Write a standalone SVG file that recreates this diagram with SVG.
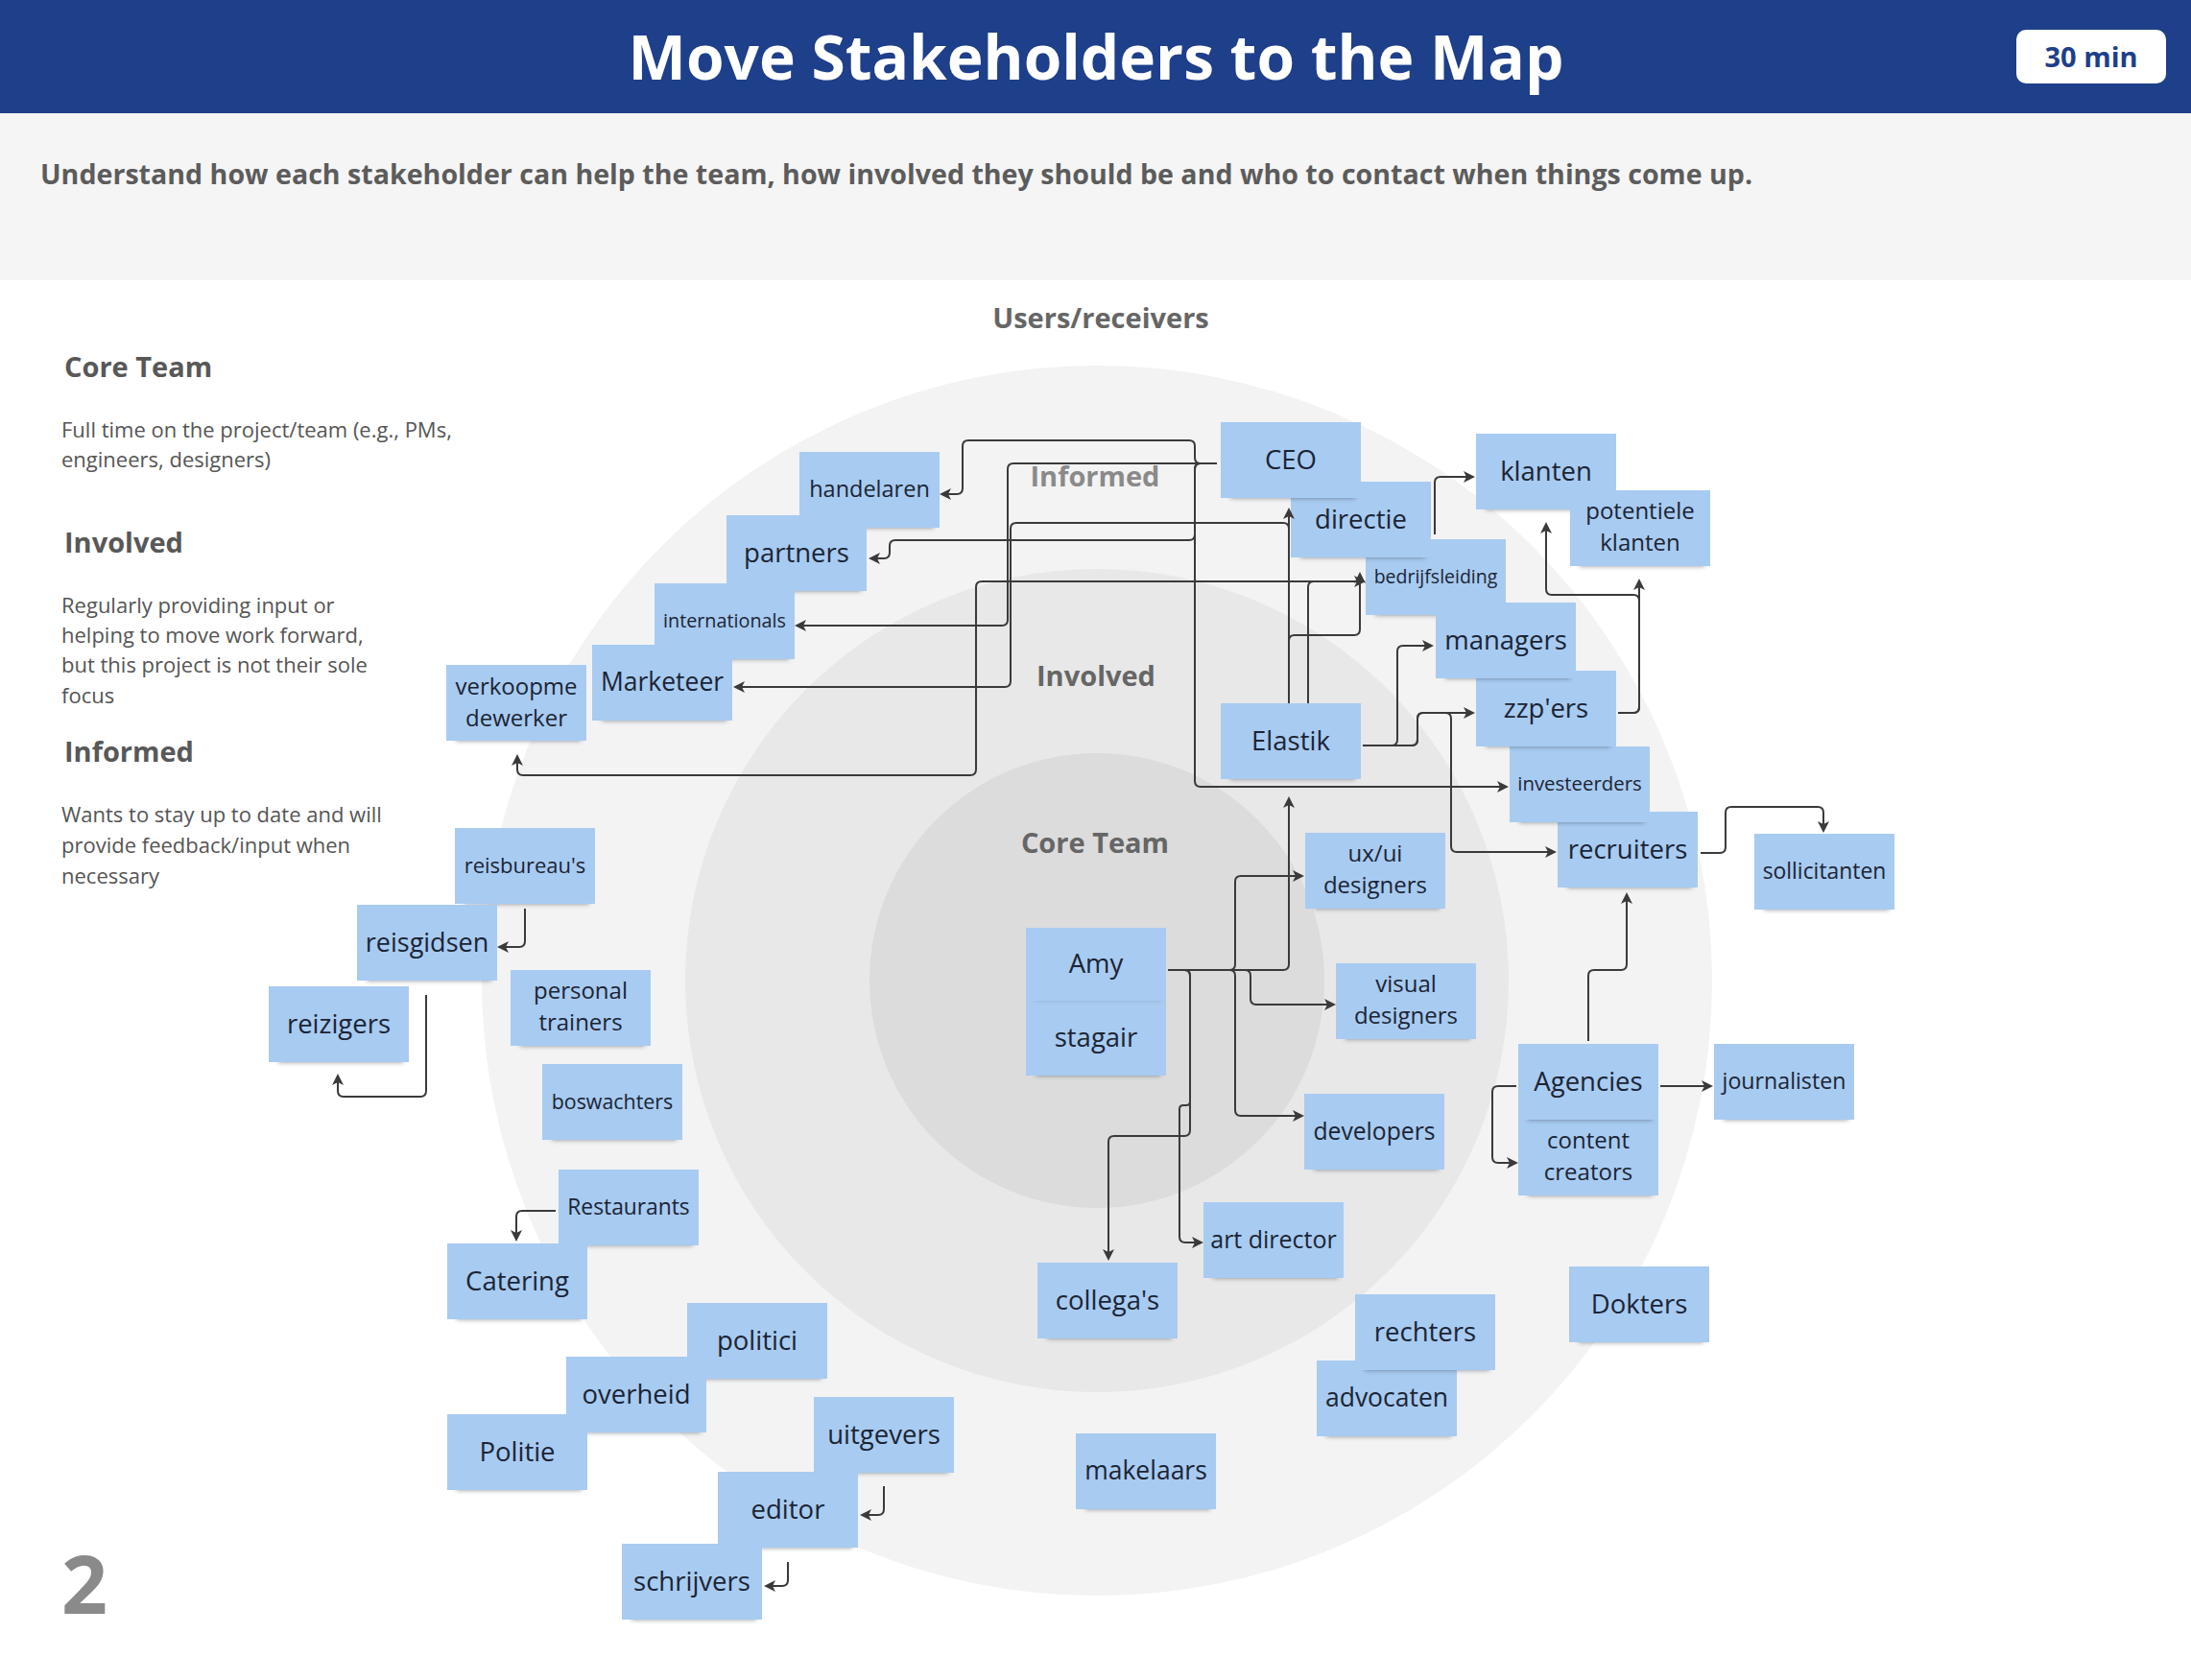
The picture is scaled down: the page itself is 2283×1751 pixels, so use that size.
<svg xmlns="http://www.w3.org/2000/svg" width="2283" height="1751" viewBox="0 0 2283 1751">
<defs>
<style>
.ff{font-family:"Open Sans","Liberation Sans",sans-serif}
.b{fill:#a8cbf1}
.sh{fill:#2a3442;opacity:.55;filter:url(#sf)}
.t{font-family:"Open Sans","Liberation Sans",sans-serif;fill:#1b2434;text-anchor:middle;font-size:27.5px}
.lab{font-family:"Open Sans","Liberation Sans",sans-serif;font-weight:700;font-size:29px;text-anchor:middle;fill:#666}
.hd{font-family:"Open Sans","Liberation Sans",sans-serif;font-weight:700;font-size:29px;fill:#585858}
.bd{font-family:"Open Sans","Liberation Sans",sans-serif;font-size:22px;fill:#555}
.c{fill:none;stroke:#3a3a3a;stroke-width:2;marker-end:url(#ah)}
</style>
<filter id="sf" x="-20%" y="-100%" width="140%" height="300%"><feGaussianBlur stdDeviation="2.5"/></filter>
<marker id="ah" viewBox="0 0 12 12" refX="10" refY="6" markerWidth="12" markerHeight="12" markerUnits="userSpaceOnUse" orient="auto"><path d="M0,0 L12,6 L0,12 L3,6 z" fill="#3a3a3a"/></marker>
</defs>

<rect width="2283" height="1751" fill="#ffffff"/>
<rect x="0" y="0" width="2283" height="118" fill="#1e3f8a"/>
<rect x="0" y="118" width="2283" height="174" fill="#f5f5f5"/>
<text x="1142" y="83" class="ff" font-size="64" font-weight="700" fill="#ffffff" text-anchor="middle">Move Stakeholders to the Map</text>
<rect x="2101" y="31" width="156" height="56" rx="10" fill="#ffffff"/>
<text x="2179" y="70" class="ff" font-size="29" font-weight="700" fill="#1e3f8a" text-anchor="middle">30 min</text>
<text x="42" y="192" class="ff" font-size="28.6" font-weight="700" fill="#5c5c5c">Understand how each stakeholder can help the team, how involved they should be and who to contact when things come up.</text>

<circle cx="1143" cy="1022" r="641" fill="#f3f3f3"/>
<circle cx="1143" cy="1022" r="429" fill="#e8e8e8"/>
<circle cx="1143" cy="1022" r="237" fill="#dcdcdc"/>

<text x="1147" y="342" class="lab">Users/receivers</text>
<text x="1141" y="507" class="lab" style="fill:#8a8a8a">Informed</text>
<text x="1142" y="715" class="lab">Involved</text>
<text x="1141" y="889" class="lab">Core Team</text>

<g id="legend">
<text x="67" y="393" class="hd">Core Team</text>
<text x="64" y="456" class="bd">Full time on the project/team (e.g., PMs,</text>
<text x="64" y="487" class="bd">engineers, designers)</text>
<text x="67" y="576" class="hd">Involved</text>
<text x="64" y="639" class="bd">Regularly providing input or</text>
<text x="64" y="670" class="bd">helping to move work forward,</text>
<text x="64" y="701" class="bd">but this project is not their sole</text>
<text x="64" y="733" class="bd">focus</text>
<text x="67" y="794" class="hd">Informed</text>
<text x="64" y="857" class="bd">Wants to stay up to date and will</text>
<text x="64" y="889" class="bd">provide feedback/input when</text>
<text x="64" y="921" class="bd">necessary</text>
<text x="64" y="1682" class="ff" font-size="84" font-weight="700" fill="#8a8a8a">2</text>
</g>

<g id="nodes">
<g id="n-handelaren"><rect class="sh" x="843" y="538" width="130" height="12"/><rect class="b" x="833" y="471" width="146" height="79"/><text class="t" x="906" y="518" style="font-size:23.5px">handelaren</text></g>
<g id="n-partners"><rect class="sh" x="767" y="604" width="130" height="12"/><rect class="b" x="757" y="537" width="146" height="79"/><text class="t" x="830" y="585.5">partners</text></g>
<g id="n-internationals"><rect class="sh" x="692" y="675" width="130" height="12"/><rect class="b" x="682" y="608" width="146" height="79"/><text class="t" x="755" y="654" style="font-size:19.8px">internationals</text></g>
<g id="n-marketeer"><rect class="sh" x="627" y="739" width="130" height="12"/><rect class="b" x="617" y="672" width="146" height="79"/><text class="t" x="690" y="720" style="font-size:26.5px">Marketeer</text></g>
<g id="n-verkoop"><rect class="sh" x="475" y="760" width="130" height="12"/><rect class="b" x="465" y="693" width="146" height="79"/><text class="t" x="538" y="724" style="font-size:24px">verkoopme</text><text class="t" x="538" y="757" style="font-size:24px">dewerker</text></g>
<g id="n-bedrijfsleiding"><rect class="sh" x="1433" y="629" width="130" height="12"/><rect class="b" x="1423" y="562" width="146" height="79"/><text class="t" x="1496" y="608" style="font-size:19.5px">bedrijfsleiding</text></g>
<g id="n-directie"><rect class="sh" x="1355" y="569" width="130" height="12"/><rect class="b" x="1345" y="502" width="146" height="79"/><text class="t" x="1418" y="550.5">directie</text></g>
<g id="n-ceo"><rect class="sh" x="1282" y="507" width="130" height="12"/><rect class="b" x="1272" y="440" width="146" height="79"/><text class="t" x="1345" y="488.5">CEO</text></g>
<g id="n-klanten"><rect class="sh" x="1548" y="519" width="130" height="12"/><rect class="b" x="1538" y="452" width="146" height="79"/><text class="t" x="1611" y="500.5">klanten</text></g>
<g id="n-potentiele"><rect class="sh" x="1646" y="578" width="130" height="12"/><rect class="b" x="1636" y="511" width="146" height="79"/><text class="t" x="1709" y="541" style="font-size:24px">potentiele</text><text class="t" x="1709" y="574" style="font-size:24px">klanten</text></g>
<g id="n-recruiters"><rect class="sh" x="1633" y="913" width="130" height="12"/><rect class="b" x="1623" y="846" width="146" height="79"/><text class="t" x="1696" y="894.5">recruiters</text></g>
<g id="n-investeerders"><rect class="sh" x="1583" y="845" width="130" height="12"/><rect class="b" x="1573" y="778" width="146" height="79"/><text class="t" x="1646" y="824" style="font-size:20.4px">investeerders</text></g>
<g id="n-zzpers"><rect class="sh" x="1548" y="766" width="130" height="12"/><rect class="b" x="1538" y="699" width="146" height="79"/><text class="t" x="1611" y="747.5">zzp'ers</text></g>
<g id="n-managers"><rect class="sh" x="1506" y="695" width="130" height="12"/><rect class="b" x="1496" y="628" width="146" height="79"/><text class="t" x="1569" y="676.5">managers</text></g>
<g id="n-sollicitanten"><rect class="sh" x="1838" y="936" width="130" height="12"/><rect class="b" x="1828" y="869" width="146" height="79"/><text class="t" x="1901" y="916" style="font-size:22.9px">sollicitanten</text></g>
<g id="n-elastik"><rect class="sh" x="1282" y="800" width="130" height="12"/><rect class="b" x="1272" y="733" width="146" height="79"/><text class="t" x="1345" y="781.5">Elastik</text></g>
<g id="n-uxui"><rect class="sh" x="1370" y="935" width="130" height="12"/><rect class="b" x="1360" y="868" width="146" height="79"/><text class="t" x="1433" y="898" style="font-size:24px">ux/ui</text><text class="t" x="1433" y="931" style="font-size:24px">designers</text></g>
<g id="n-visual"><rect class="sh" x="1402" y="1071" width="130" height="12"/><rect class="b" x="1392" y="1004" width="146" height="79"/><text class="t" x="1465" y="1034" style="font-size:24px">visual</text><text class="t" x="1465" y="1067" style="font-size:24px">designers</text></g>
<g id="n-developers"><rect class="sh" x="1369" y="1207" width="130" height="12"/><rect class="b" x="1359" y="1140" width="146" height="79"/><text class="t" x="1432" y="1187.5" style="font-size:24.7px">developers</text></g>
<g id="n-artdirector"><rect class="sh" x="1264" y="1320" width="130" height="12"/><rect class="b" x="1254" y="1253" width="146" height="79"/><text class="t" x="1327" y="1301" style="font-size:25px">art director</text></g>
<g id="n-content"><rect class="sh" x="1592" y="1234" width="130" height="12"/><rect class="b" x="1582" y="1167" width="146" height="79"/><text class="t" x="1655" y="1197" style="font-size:24px">content</text><text class="t" x="1655" y="1230" style="font-size:24px">creators</text></g>
<g id="n-agencies"><rect class="sh" x="1592" y="1155" width="130" height="12"/><rect class="b" x="1582" y="1088" width="146" height="79"/><text class="t" x="1655" y="1136.5">Agencies</text></g>
<g id="n-journalisten"><rect class="sh" x="1796" y="1155" width="130" height="12"/><rect class="b" x="1786" y="1088" width="146" height="79"/><text class="t" x="1859" y="1135" style="font-size:23.2px">journalisten</text></g>
<g id="n-stagair"><rect class="sh" x="1079" y="1109" width="130" height="12"/><rect class="b" x="1069" y="1042" width="146" height="79"/><text class="t" x="1142" y="1090.5">stagair</text></g>
<g id="n-amy"><rect class="sh" x="1079" y="1032" width="130" height="10" style="opacity:.3"/><rect class="b" x="1069" y="967" width="146" height="76"/><text class="t" x="1142" y="1014">Amy</text></g>
<g id="n-reisbureaus"><rect class="sh" x="484" y="930" width="130" height="12"/><rect class="b" x="474" y="863" width="146" height="79"/><text class="t" x="547" y="910" style="font-size:22px">reisbureau's</text></g>
<g id="n-reisgidsen"><rect class="sh" x="382" y="1010" width="130" height="12"/><rect class="b" x="372" y="943" width="146" height="79"/><text class="t" x="445" y="991.5" style="font-size:27px">reisgidsen</text></g>
<g id="n-reizigers"><rect class="sh" x="290" y="1095" width="130" height="12"/><rect class="b" x="280" y="1028" width="146" height="79"/><text class="t" x="353" y="1076.5">reizigers</text></g>
<g id="n-personal"><rect class="sh" x="542" y="1078" width="130" height="12"/><rect class="b" x="532" y="1011" width="146" height="79"/><text class="t" x="605" y="1041" style="font-size:24px">personal</text><text class="t" x="605" y="1074" style="font-size:24px">trainers</text></g>
<g id="n-boswachters"><rect class="sh" x="575" y="1176" width="130" height="12"/><rect class="b" x="565" y="1109" width="146" height="79"/><text class="t" x="638" y="1155.5" style="font-size:21.4px">boswachters</text></g>
<g id="n-restaurants"><rect class="sh" x="592" y="1286" width="130" height="12"/><rect class="b" x="582" y="1219" width="146" height="79"/><text class="t" x="655" y="1266" style="font-size:22.8px">Restaurants</text></g>
<g id="n-catering"><rect class="sh" x="476" y="1363" width="130" height="12"/><rect class="b" x="466" y="1296" width="146" height="79"/><text class="t" x="539" y="1344.5">Catering</text></g>
<g id="n-politici"><rect class="sh" x="726" y="1425" width="130" height="12"/><rect class="b" x="716" y="1358" width="146" height="79"/><text class="t" x="789" y="1406.5">politici</text></g>
<g id="n-overheid"><rect class="sh" x="600" y="1481" width="130" height="12"/><rect class="b" x="590" y="1414" width="146" height="79"/><text class="t" x="663" y="1462.5">overheid</text></g>
<g id="n-politie"><rect class="sh" x="476" y="1541" width="130" height="12"/><rect class="b" x="466" y="1474" width="146" height="79"/><text class="t" x="539" y="1522.5">Politie</text></g>
<g id="n-uitgevers"><rect class="sh" x="858" y="1523" width="130" height="12"/><rect class="b" x="848" y="1456" width="146" height="79"/><text class="t" x="921" y="1504.5">uitgevers</text></g>
<g id="n-editor"><rect class="sh" x="758" y="1601" width="130" height="12"/><rect class="b" x="748" y="1534" width="146" height="79"/><text class="t" x="821" y="1582.5">editor</text></g>
<g id="n-schrijvers"><rect class="sh" x="658" y="1676" width="130" height="12"/><rect class="b" x="648" y="1609" width="146" height="79"/><text class="t" x="721" y="1657.5">schrijvers</text></g>
<g id="n-collegas"><rect class="sh" x="1091" y="1383" width="130" height="12"/><rect class="b" x="1081" y="1316" width="146" height="79"/><text class="t" x="1154" y="1364.5">collega's</text></g>
<g id="n-advocaten"><rect class="sh" x="1382" y="1485" width="130" height="12"/><rect class="b" x="1372" y="1418" width="146" height="79"/><text class="t" x="1445" y="1466" style="font-size:26.5px">advocaten</text></g>
<g id="n-rechters"><rect class="sh" x="1422" y="1416" width="130" height="12"/><rect class="b" x="1412" y="1349" width="146" height="79"/><text class="t" x="1485" y="1397.5">rechters</text></g>
<g id="n-dokters"><rect class="sh" x="1645" y="1387" width="130" height="12"/><rect class="b" x="1635" y="1320" width="146" height="79"/><text class="t" x="1708" y="1368.5">Dokters</text></g>
<g id="n-makelaars"><rect class="sh" x="1131" y="1561" width="130" height="12"/><rect class="b" x="1121" y="1494" width="146" height="79"/><text class="t" x="1194" y="1542" style="font-size:26.5px">makelaars</text></g>
</g>

<g id="connectors">
<path class="c" d="M1268,483 L1251,483 Q1245,483 1245,477 L1245,465 Q1245,459 1239,459 L1009,459 Q1003,459 1003,465 L1003,509 Q1003,515 997,515 L981,515"/>
<path class="c" d="M1268,483 L1251,483 Q1245,483 1245,489 L1245,557 Q1245,563 1239,563 L933,563 Q927,563 927,569 L927,576 Q927,582 921,582 L907,582"/>
<path class="c" d="M1268,483 L1251,483 Q1245,483 1245,489 L1245,814 Q1245,820 1251,820 L1570,820"/>
<path class="c" d="M1268,483 L1056,483 Q1050,483 1050,489 L1050,646 Q1050,652 1044,652 L830,652"/>
<path class="c" d="M1343,733 L1343,531"/>
<path class="c" d="M1343,733 L1343,551 Q1343,545 1337,545 L1059,545 Q1053,545 1053,551 L1053,710 Q1053,716 1047,716 L766,716"/>
<path class="c" d="M1343,733 L1343,668 Q1343,662 1349,662 L1411,662 Q1417,662 1417,656 L1417,598"/>
<path class="c" d="M1363,733 L1363,612 Q1363,606 1369,606 L1421,606"/>
<path class="c" d="M1410,606 L1023,606 Q1017,606 1017,612 L1017,802 Q1017,808 1011,808 L545,808 Q539,808 539,802 L539,788"/>
<path class="c" d="M1495,557 L1495,503 Q1495,497 1501,497 L1535,497"/>
<path class="c" d="M1686,743 L1702,743 Q1708,743 1708,737 L1708,605"/>
<path class="c" d="M1686,743 L1702,743 Q1708,743 1708,737 L1708,626 Q1708,620 1702,620 L1617,620 Q1611,620 1611,614 L1611,546"/>
<path class="c" d="M1420,777 L1450,777 Q1456,777 1456,771 L1456,679 Q1456,673 1462,673 L1492,673"/>
<path class="c" d="M1420,777 L1471,777 Q1477,777 1477,771 L1477,749 Q1477,743 1483,743 L1535,743"/>
<path class="c" d="M1420,777 L1471,777 Q1477,777 1477,771 L1477,749 Q1477,743 1483,743 L1506,743 Q1512,743 1512,749 L1512,882 Q1512,888 1518,888 L1620,888"/>
<path class="c" d="M1772,889 L1792,889 Q1798,889 1798,883 L1798,847 Q1798,841 1804,841 L1894,841 Q1900,841 1900,847 L1900,866"/>
<path class="c" d="M1655,1085 L1655,1017 Q1655,1011 1661,1011 L1689,1011 Q1695,1011 1695,1005 L1695,932"/>
<path class="c" d="M1730,1132 L1783,1132"/>
<path class="c" d="M1580,1132 L1561,1132 Q1555,1132 1555,1138 L1555,1206 Q1555,1212 1561,1212 L1580,1212"/>
<path class="c" d="M1217,1011 L1337,1011 Q1343,1011 1343,1005 L1343,832"/>
<path class="c" d="M1217,1011 L1281,1011 Q1287,1011 1287,1005 L1287,919 Q1287,913 1293,913 L1357,913"/>
<path class="c" d="M1217,1011 L1297,1011 Q1303,1011 1303,1017 L1303,1041 Q1303,1047 1309,1047 L1390,1047"/>
<path class="c" d="M1217,1011 L1281,1011 Q1287,1011 1287,1017 L1287,1157 Q1287,1163 1293,1163 L1357,1163"/>
<path class="c" d="M1217,1011 L1234,1011 Q1240,1011 1240,1017 L1240,1148 Q1240,1152 1236,1152 L1233,1152 Q1229,1152 1229,1156 L1229,1289 Q1229,1295 1235,1295 L1252,1295"/>
<path class="c" d="M1217,1011 L1234,1011 Q1240,1011 1240,1017 L1240,1178 Q1240,1184 1234,1184 L1161,1184 Q1155,1184 1155,1190 L1155,1312"/>
<path class="c" d="M547,947 L547,981 Q547,987 541,987 L520,987"/>
<path class="c" d="M444,1037 L444,1137 Q444,1143 438,1143 L358,1143 Q352,1143 352,1137 L352,1121"/>
<path class="c" d="M579,1262 L544,1262 Q538,1262 538,1268 L538,1292"/>
<path class="c" d="M921,1549 L921,1573 Q921,1579 915,1579 L898,1579"/>
<path class="c" d="M821,1628 L821,1647 Q821,1653 815,1653 L798,1653"/>
</g>
</svg>
